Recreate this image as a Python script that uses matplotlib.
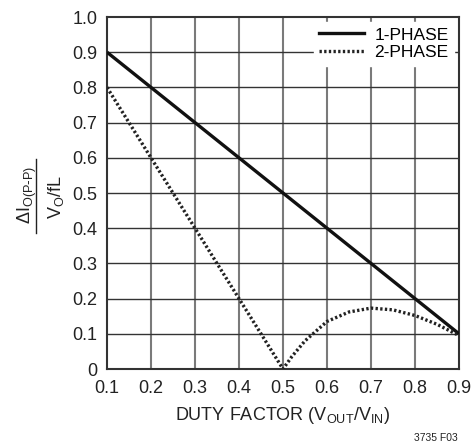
import numpy as np
import matplotlib
matplotlib.use("Agg")
import matplotlib.pyplot as plt
from matplotlib.lines import Line2D

plt.rcParams['font.family'] = ['Liberation Sans Narrow', 'Liberation Sans', 'DejaVu Sans']
plt.rcParams['mathtext.default'] = 'regular'

# duty factor vs normalized ripple current
d_one = [0.1, 0.9]
ripple_one = [0.9, 0.1]

d_two = [0.1, 0.2, 0.3, 0.4, 0.5, 0.52, 0.55, 0.6, 0.65, 0.7, 0.75, 0.8, 0.85, 0.9]
ripple_two = [0.8, 0.6, 0.4, 0.2, 0.0, 0.035, 0.08, 0.135, 0.162, 0.173, 0.168, 0.152, 0.127, 0.095]

xticks = [0.1, 0.2, 0.3, 0.4, 0.5, 0.6, 0.7, 0.8, 0.9]
yticks = [0, 0.1, 0.2, 0.3, 0.4, 0.5, 0.6, 0.7, 0.8, 0.9, 1.0]
ylabels = ['0', '0.1', '0.2', '0.3', '0.4', '0.5', '0.6', '0.7', '0.8', '0.9', '1.0']

fig = plt.figure(figsize=(4.74, 4.45), dpi=100)
ax = fig.add_axes([107/474, 1 - 369/445, 352/474, 352/445])

for x in xticks[1:-1]:
    ax.axvline(x, color='#7a7a7a', lw=1.5, zorder=1)
for y in yticks[1:-1]:
    ax.axhline(y, color='#333333', lw=1.0, zorder=1)

ax.plot(d_one, ripple_one, color='#111111', lw=2.4, solid_capstyle='butt', zorder=3)
ax.plot(d_two, ripple_two, color='#222222', lw=2.4, ls=(0, (0.7, 0.7)), zorder=3)

ax.set_xlim(0.1, 0.9)
ax.set_ylim(0, 1.0)
ax.set_xticks(xticks)
ax.set_xticklabels([str(t) for t in xticks])
ax.set_yticks(yticks)
ax.set_yticklabels(ylabels)
ax.tick_params(length=0, labelsize=13, colors='#222222')
ax.tick_params(axis='x', pad=8)
ax.tick_params(axis='y', pad=7)
for s in ax.spines.values():
    s.set_color('#333333')
    s.set_linewidth(1.5)

handles = [Line2D([], [], color='#111111', lw=2.4),
           Line2D([], [], color='#222222', lw=2.4, ls=(0, (0.7, 0.7)))]
leg = ax.legend(handles, ['1-PHASE', '2-PHASE'], loc='upper right', fontsize=12.5,
                frameon=True, fancybox=False, framealpha=1, edgecolor='white',
                handlelength=2.6, handletextpad=0.6, borderpad=0.3, labelspacing=0.15,
                borderaxespad=0.3)
leg.set_zorder(5)

ax.set_xlabel('DUTY FACTOR (V$_{OUT}$/V$_{IN}$)', fontsize=13, color='#222222', labelpad=6)

# y label as a fraction
fig.text(27/474, 1 - 195/445, r'$\Delta$I$_{O(P\text{-}P)}$', rotation=90, fontsize=13,
         ha='center', va='center', color='#222222')
fig.text(56/474, 1 - 197/445, 'V$_O$/fL', rotation=90, fontsize=13,
         ha='center', va='center', color='#222222')
fig.add_artist(Line2D([36/474, 36/474], [1 - 233/445, 1 - 159/445], color='#222222', lw=1.0))

fig.text(458/474, 1 - 438/445, '3735 F03', fontsize=7.5, ha='right', va='center', color='#222222')

fig.savefig('out.png', dpi=100)
